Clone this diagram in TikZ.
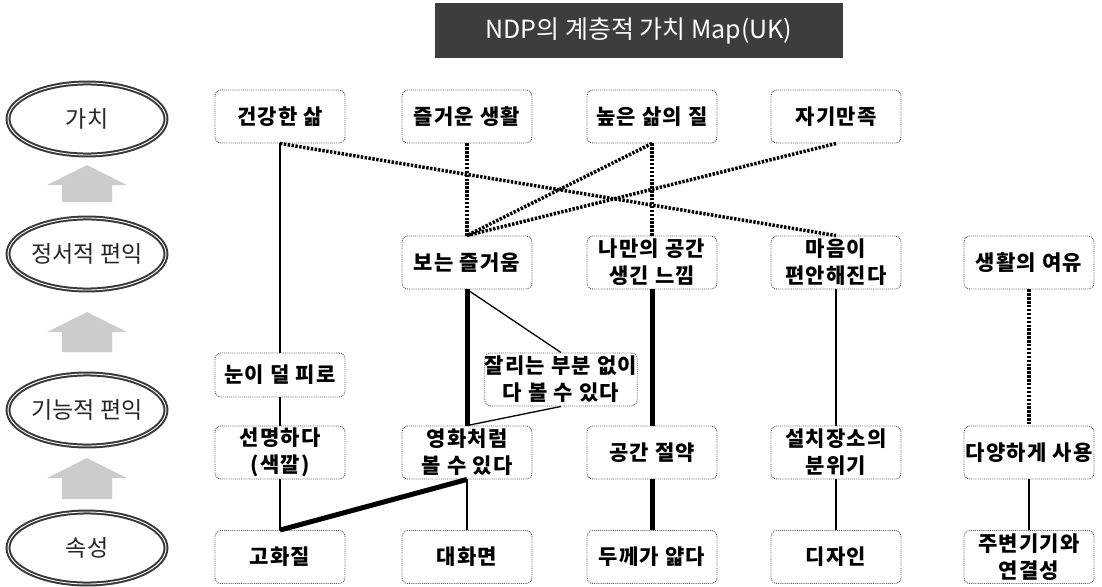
\documentclass[tikz,border=0pt]{standalone}
\usepackage{fontspec}
\newfontfamily\kr{Noto Sans CJK KR}
\usetikzlibrary{shapes.geometric}
\definecolor{arrowgray}{gray}{0.80}
\definecolor{titlegray}{gray}{0.24}
\begin{document}
\begin{tikzpicture}[x=1pt,y=-1pt,
  box/.style={draw=black!65, densely dotted, line width=0.9pt, rounded corners=6pt,
    minimum width=130pt, minimum height=53pt, align=center, inner sep=0pt,
    font=\kr\bfseries\fontsize{21}{27}\selectfont\addfontfeature{LetterSpace=6}},
  ell/.style={ellipse, draw=black!78, line width=2pt, double=white, double distance=0.9pt,
    minimum width=158pt, minimum height=72pt, inner sep=0pt,
    font=\kr\fontsize{23}{23}\selectfont, text=black!85},
  thinln/.style={line width=1.3pt},
  thickln/.style={line width=5pt},
  dotln/.style={line width=3.5pt, dash pattern=on 2.4pt off 1.5pt}
]
\useasboundingbox (0,0) rectangle (1102,586);
\fill[white] (0,0) rectangle (1102,586);

% title
\node[fill=titlegray, text=white, minimum width=408pt, minimum height=55pt, inner sep=0pt,
  font=\kr\fontsize{25}{25}\selectfont] (title) at (639,30.5) {NDP의 계층적 가치 Map(UK)};

% level ellipses
\node[ell] (L1) at (87,119) {가치};
\node[ell] (L2) at (87,254) {정서적 편익};
\node[ell] (L3) at (87,410) {기능적 편익};
\node[ell] (L4) at (87,548) {속성};

% gray up arrows
\foreach \t/\b in {165/202, 312/352, 458/499}{
  \fill[arrowgray] (47,\t+20) -- (87,\t) -- (127,\t+20) -- (112,\t+20) -- (112,\b) -- (62,\b) -- (62,\t+20) -- cycle;
}

% values
\node[box] (v1) at (280,116.5) {건강한 삶};
\node[box] (v2) at (467,116.5) {즐거운 생활};
\node[box] (v3) at (652,116.5) {높은 삶의 질};
\node[box] (v4) at (836,116.5) {자기만족};
% emotional benefits
\node[box] (e1) at (467,262.5) {보는 즐거움};
\node[box] (e2) at (652,262.5) {나만의 공간\\생긴 느낌};
\node[box] (e3) at (836,262.5) {마음이\\편안해진다};
\node[box] (e4) at (1029,262.5) {생활의 여유};
% middle
\node[box, minimum height=44pt] (f0) at (280,375) {눈이 덜 피로};
\node[box, minimum width=151pt] (fm) at (561,379.5) {잘리는 부분 없이\\다 볼 수 있다};
% functional benefits
\node[box] (f1) at (280,452.5) {선명하다\\(색깔)};
\node[box] (f2) at (467,452.5) {영화처럼\\볼 수 있다};
\node[box] (f3) at (652,452.5) {공간 절약};
\node[box] (f4) at (836,452.5) {설치장소의\\분위기};
\node[box] (f5) at (1029,452.5) {다양하게 사용};
% attributes
\node[box] (a1) at (280,557) {고화질};
\node[box] (a2) at (467,557) {대화면};
\node[box] (a3) at (652,557) {두께가 얇다};
\node[box] (a4) at (836,557) {디자인};
\node[box] (a5) at (1029,557) {주변기기와\\연결성};

% connectors
\draw[thinln] (v1.south) -- (f0.north);
\draw[thinln] (f0.south) -- (f1.north);
\draw[thinln] (f1.south) -- (a1.north);
\draw[thickln] (a1.north) -- (f2.south);
\draw[thinln] (f2.south) -- (a2.north);
\draw[thickln] (e1.south) -- (f2.north);
\draw[thinln] (e1.south) -- (fm.north);
\draw[thinln] (fm.south) -- (f2.north);
\draw[thickln] (e2.south) -- (f3.north);
\draw[thickln] (f3.south) -- (a3.north);
\draw[thinln] (e3.south) -- (f4.north);
\draw[thinln] (f4.south) -- (a4.north);
\draw[dotln] (e4.south) -- (f5.north);
\draw[thinln] (f5.south) -- (a5.north);
\draw[dotln] (v2.south) -- (e1.north);
\draw[dotln] (v1.south) -- (e3.north);
\draw[dotln] (v3.south) -- (e2.north);
\draw[dotln] (v3.south) -- (e1.north);
\draw[dotln] (v4.south) -- (e1.north);
\end{tikzpicture}
\end{document}
